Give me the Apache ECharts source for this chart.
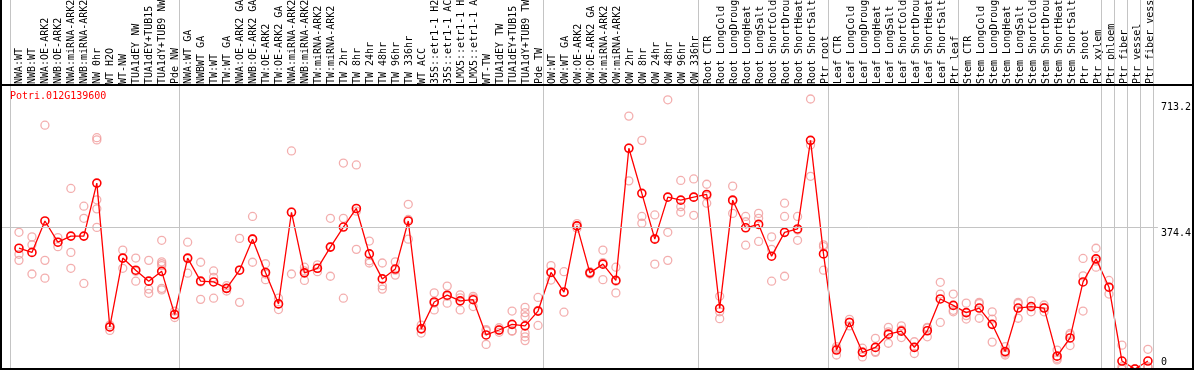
<!DOCTYPE html>
<html><head><meta charset="utf-8">
<script src="https://cdn.jsdelivr.net/npm/echarts@6/dist/echarts.min.js"></script>
<style>html,body{margin:0;padding:0;background:#fff}#c{width:1194px;height:370px}</style>
</head><body><div id="c"></div>
<script>
const geneName = 'Potri.012G139600';
const categories = [
 'NWA:WT','NWB:WT','NWA:OE-ARK2','NWB:OE-ARK2','NWA:miRNA-ARK2','NWB:miRNA-ARK2','NW 0hr','WT H2O','WT-NW','TUA1dEY NW','TUA1dEY+TUB15 NW','TUA1dY+TUB9 NW','Pde NW',
 'NWA:WT GA','NWBWT GA','TW:WT','TW:WT GA','NWA:OE-ARK2 GA','NWB:OE-ARK2 GA','TW:OE-ARK2','TW:OE-ARK2 GA','NWA:miRNA-ARK2','NWB:miRNA-ARK2','TW:miRNA-ARK2','TW:miRNA-ARK2',
 'TW 2hr','TW 8hr','TW 24hr','TW 48hr','TW 96hr','TW 336hr','WT ACC','35S::etr1-1 H2O','35S::etr1-1 ACC','LMX5::etr1-1 H2O','LMX5::etr1-1 ACC','WT-TW','TUA1dEY TW','TUA1dEY+TUB15 TW','TUA1dY+TUB9 TW','Pde TW',
 'OW:WT','OW:WT GA','OW:OE-ARK2','OW:OE-ARK2 GA','OW:miRNA-ARK2','OW:miRNA-ARK2','OW 2hr','OW 8hr','OW 24hr','OW 48hr','OW 96hr','OW 336hr',
 'Root CTR','Root LongCold','Root LongDrought','Root LongHeat','Root LongSalt','Root ShortCold','Root ShortDrought','Root ShortHeat','Root ShortSalt','Ptr root',
 'Leaf CTR','Leaf LongCold','Leaf LongDrought','Leaf LongHeat','Leaf LongSalt','Leaf ShortCold','Leaf ShortDrought','Leaf ShortHeat','Leaf ShortSalt','Ptr leaf',
 'Stem CTR','Stem LongCold','Stem LongDrought','Stem LongHeat','Stem LongSalt','Stem ShortCold','Stem ShortDrought','Stem ShortHeat','Stem ShortSalt','Ptr shoot',
 'Ptr xylem','Ptr phloem','Ptr fiber','Ptr vessel','Ptr fiber vessel'
];
const meanValues = [
 319,308,391,335,351,351,491,111,293,261,232,258,144,
 293,232,230,213,261,343,255,172,414,254,266,322,375,424,304,238,264,391,106,177,195,180,183,90,103,118,114,153,
 255,203,378,254,277,234,583,464,343,454,446,454,
 461,160,446,373,382,298,361,370,604,304,
 50,123,44,57,92,100,57,101,185,168,
 149,161,118,46,161,165,161,34,82,230,
 291,216,21,0,21
];
const replicates = [
 [361,303,287],[349,328,251],[644,287,240],[347,335,323],[477,308,266],[430,398,226],[611,605,447,423,374],[116,111,102],[314,293,266],[293,258,232],[287,211,200],[340,283,278,273,213,209],[153,144,136],
 [335,291,253],[282,230,184],[259,242,187],[220,213,206],[345,262,176],[403,344,282],[278,251,236],[187,172,157],[576,415,251],[269,259,234],[275,266,257],[398,323,245],
 [544,398,187],[539,417,316],[338,286,280],[280,220,211],[283,261,248],[435,395,343],[116,107,95],[201,174,156],[219,192,174],[196,188,156],[192,187,165],[104,101,65],[109,103,97],[153,101,100],[163,149,138,95,85,75],[189,155,115],
 [273,257,235],[257,202,150],[384,378,372],[257,254,251],[314,281,236],[269,232,201],[668,584,497],[604,403,385],[407,345,277],[711,361,287],[498,429,414],[502,454,406],
 [488,457,438],[192,151,133],[483,444,411],[403,389,327],[411,398,337],[349,316,232],[438,403,245],[403,367,340],[713.2,592,509],[328,323,261],
 [59,54,37],[131,124,114],[55,45,32],[81,46,44],[110,98,68],[114,103,83],[72,58,41],[110,108,85],[229,198,123],[198,155,151],
 [174,141,132],[176,173,134],[151,132,71],[59,42,37],[176,173,134],[180,164,151],[169,163,151],[50,28,24],[94,90,62],[292,246,153],
 [319,285,269],[234,216,198],[63,6,0],[0,0,0],[52,6,5]
];
const separatorAfter = [12,40,52,62,72,83,84,85,86,87];
const yTickValues = [0, 374.4, 713.2];
const gridLineValue = 374.4;
const yDataMax = 713.2;

// layout (pixels)
const MONO = 'DejaVu Sans Mono';
const plotLeft = 2, plotRight = 1160, plotBottom = 369, valueTop = 99, headerY = 85;
const step = 13, firstX = 19;
const xMin = -(firstX - plotLeft) / step;
const xMax = xMin + (plotRight - plotLeft) / step;
const yAxisMax = yDataMax * plotBottom / (plotBottom - valueTop);

const sepLines = [{xAxis: (10 - firstX) / step}]
  .concat(separatorAfter.map(i => ({xAxis: i + 5 / step})))
  .concat([{yAxis: gridLineValue}]);

const repData = [];
replicates.forEach((arr, i) => arr.forEach(v => repData.push([i, v])));

const chart = echarts.init(document.getElementById('c'), null, {renderer: 'canvas'});
chart.setOption({
  animation: false,
  backgroundColor: '#fff',
  title: {text: geneName, left: 10, top: 91, padding: 0,
    textStyle: {color: '#ff0000', fontSize: 10, fontWeight: 'normal', fontFamily: MONO}},
  grid: [
    {left: firstX - step / 2, width: categories.length * step, top: headerY, height: 1},
    {left: plotLeft, right: 1194 - plotRight, top: 0, bottom: 370 - plotBottom}
  ],
  xAxis: [
    {type: 'category', gridIndex: 0, data: categories, position: 'top', boundaryGap: true,
     axisLine: {show: false, onZero: false}, axisTick: {show: false}, splitLine: {show: false},
     axisLabel: {interval: 0, rotate: -90, margin: 2, fontSize: 10, fontFamily: MONO, color: '#000'}},
    {type: 'value', gridIndex: 1, min: xMin, max: xMax, show: false}
  ],
  yAxis: [
    {type: 'value', gridIndex: 0, show: false},
    {type: 'value', gridIndex: 1, position: 'right', min: 0, max: yAxisMax,
     axisLine: {show: false}, axisTick: {show: false}, splitLine: {show: false},
     axisLabel: {customValues: yTickValues, margin: 3, color: '#000', fontSize: 10, fontFamily: MONO,
       formatter: v => v === 0 ? '{b|0}' : (v === yDataMax ? '{t|' + v + '}' : '{m|' + v + '}'),
       rich: {t: {padding: [16, 0, 0, 0], fontSize: 10, fontFamily: MONO, color: '#000'},
              m: {padding: [12, 0, 0, 0], fontSize: 10, fontFamily: MONO, color: '#000'},
              b: {padding: [0, 0, 13, 0], fontSize: 10, fontFamily: MONO, color: '#000'}}}}
  ],
  series: [
    {type: 'scatter', xAxisIndex: 1, yAxisIndex: 1, data: repData, symbol: 'circle', symbolSize: 8, z: 2,
     itemStyle: {color: 'rgba(0,0,0,0)', borderColor: '#f09a9a', borderWidth: 1.3},
     markLine: {silent: true, symbol: 'none', label: {show: false}, animation: false,
       lineStyle: {color: '#c4c4c4', width: 1, type: 'solid'}, data: sepLines}},
    {type: 'line', xAxisIndex: 1, yAxisIndex: 1, data: meanValues.map((v, i) => [i, v]), z: 3,
     symbol: 'circle', symbolSize: 8, showAllSymbol: true, clip: false,
     lineStyle: {color: '#ff0000', width: 1.3},
     itemStyle: {color: 'rgba(0,0,0,0)', borderColor: '#ff0000', borderWidth: 1.6}}
  ],
  graphic: [
    {type: 'line', silent: true, z: 100, shape: {x1: 1, y1: 0, x2: 1, y2: 370}, style: {stroke: '#000', lineWidth: 2}},
    {type: 'line', silent: true, z: 100, shape: {x1: 1193, y1: 0, x2: 1193, y2: 370}, style: {stroke: '#000', lineWidth: 2}},
    {type: 'line', silent: true, z: 100, shape: {x1: 0, y1: headerY, x2: 1194, y2: headerY}, style: {stroke: '#000', lineWidth: 2}},
    {type: 'line', silent: true, z: 100, shape: {x1: 0, y1: plotBottom, x2: 1194, y2: plotBottom}, style: {stroke: '#000', lineWidth: 2}}
  ]
});
</script></body></html>
